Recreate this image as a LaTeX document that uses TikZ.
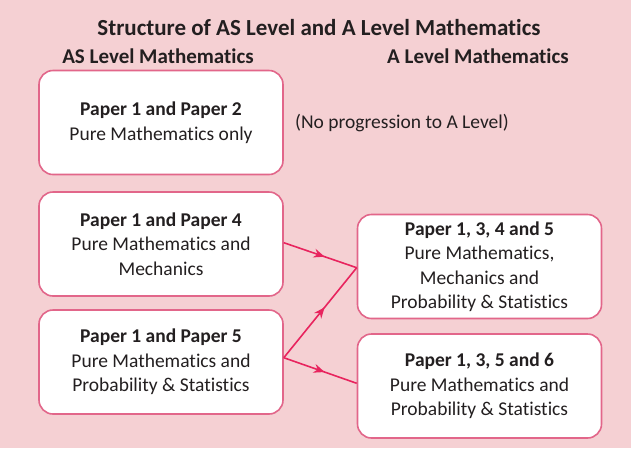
\documentclass[tikz,border=0pt]{standalone}
\usepackage{fontspec}
\setmainfont[Ligatures=NoCommon]{Carlito}
\usetikzlibrary{arrows.meta,decorations.markings}
\definecolor{bgpink}{HTML}{F5D0D3}
\definecolor{boxline}{HTML}{E2668A}
\definecolor{arrowred}{HTML}{E8245E}
\definecolor{inkdark}{HTML}{231F20}
\begin{document}
\begin{tikzpicture}[
    x=1pt, y=-1pt,
    paper/.style={draw=boxline, line width=1.6pt, fill=white, minimum width=244pt, minimum height=104pt, rounded corners=14pt, align=center, text=inkdark, font=\fontsize{19.5}{24.5}\selectfont},
    heading/.style={text=inkdark, font=\fontsize{21}{25}\selectfont\bfseries},
    arrow/.style={arrowred, line width=1.6pt, postaction={decorate}, decoration={markings, mark=at position 0.56 with {\arrow{Stealth[length=11pt,width=9pt]}}}}
]
    \fill[bgpink] (0,0) rectangle (631,448);
    \useasboundingbox (0,0) rectangle (631,448);

    \node[heading, font=\fontsize{23}{27}\selectfont\bfseries] (title) at (319,28) {Structure of AS Level and A Level Mathematics};
    \node[heading] (aslevel) at (158,56) {AS Level Mathematics};
    \node[heading] (alevel) at (478,56) {A Level Mathematics};

    \node[paper] (p12) at (161,122.5) {\textbf{Paper 1 and Paper 2}\\Pure Mathematics only};
    \node[paper] (p14) at (161,244) {\textbf{Paper 1 and Paper 4}\\Pure Mathematics and\\Mechanics};
    \node[paper] (p15) at (161,362) {\textbf{Paper 1 and Paper 5}\\Pure Mathematics and\\Probability \& Statistics};
    \node[paper] (p1345) at (479.5,266.5) {\textbf{Paper 1, 3, 4 and 5}\\Pure Mathematics,\\Mechanics and\\Probability \& Statistics};
    \node[paper] (p1356) at (479.5,386) {\textbf{Paper 1, 3, 5 and 6}\\Pure Mathematics and\\Probability \& Statistics};

    \node[text=inkdark, font=\fontsize{19.5}{23}\selectfont] (noprog) at (402,123) {(No progression to A Level)};

    \draw[arrow] ([yshift=1.3pt]p14.east) -- ([yshift=-1.2pt]p1345.west);
    \draw[arrow] ([yshift=4.3pt]p15.east) -- ([yshift=-1.2pt]p1345.west);
    \draw[arrow] ([yshift=4.3pt]p15.east) -- ([yshift=2.7pt]p1356.west);
\end{tikzpicture}
\end{document}
